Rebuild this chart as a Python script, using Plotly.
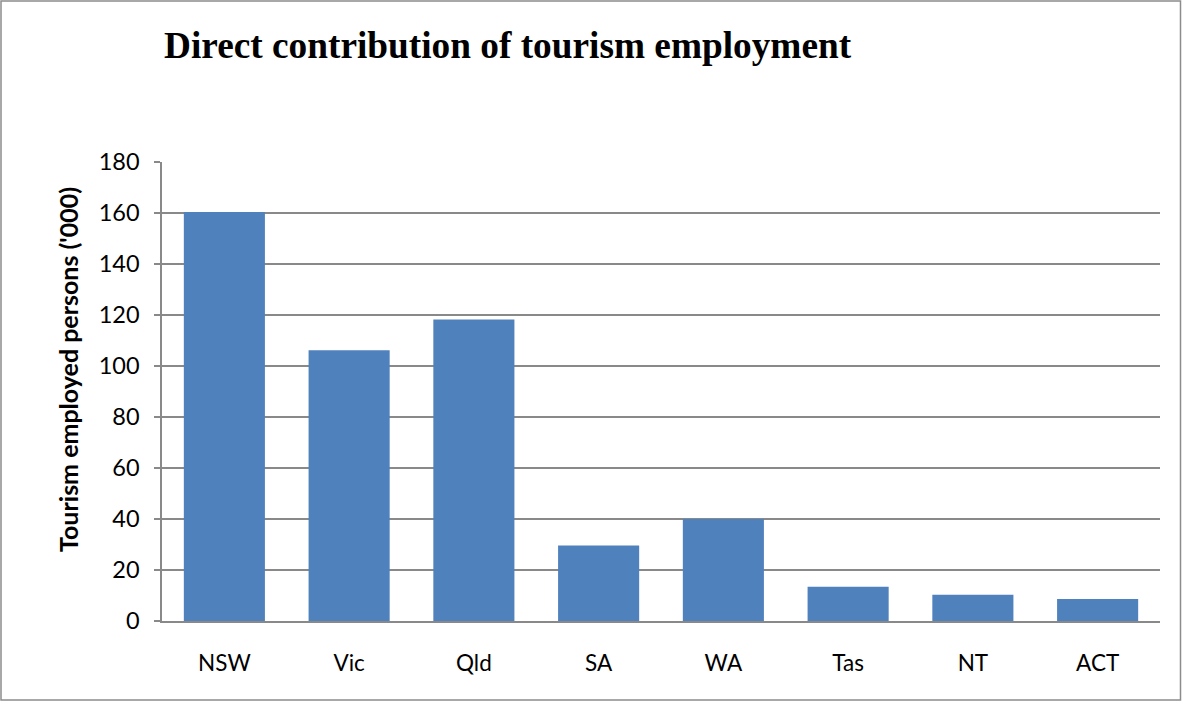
import plotly.graph_objects as go

# Tourism employment by state/territory ('000 persons)
states = ["NSW", "Vic", "Qld", "SA", "WA", "Tas", "NT", "ACT"]
employed = [160.4, 106.2, 118.2, 29.6, 40.0, 13.4, 10.3, 8.6]
y_ticks = [0, 20, 40, 60, 80, 100, 120, 140, 160, 180]

W, H = 1182, 701
ML, MR, MT, MB = 162, 22, 162, 80
PW, PH = W - ML - MR, H - MT - MB


def px_x(px):
    """Pixel column -> paper x."""
    return (px - ML) / PW


def px_y(py):
    """Pixel row -> paper y."""
    return (H - MB - py) / PH


fig = go.Figure(
    go.Bar(
        x=states,
        y=employed,
        marker=dict(color="#4F81BD", line=dict(width=0)),
        width=0.65,
    )
)

font_family = "Lato, Open Sans, sans-serif"

fig.update_layout(
    width=W,
    height=H,
    margin=dict(l=ML, r=MR, t=MT, b=MB, pad=0),
    paper_bgcolor="#ffffff",
    plot_bgcolor="#ffffff",
    showlegend=False,
    title=dict(
        text="<b>Direct contribution of tourism employment</b>",
        font=dict(family="Liberation Serif, Times New Roman, serif", size=37.3, color="#000000"),
        x=164 / W,
        xanchor="left",
        xref="container",
        y=1 - 45 / H,
        yanchor="middle",
        yref="container",
    ),
    xaxis=dict(
        showgrid=False,
        showline=True,
        linecolor="#898989",
        linewidth=1.5,
        ticks="",
        tickfont=dict(family=font_family, size=22.5, color="#000000"),
        ticklabelstandoff=21,
        range=[-0.5, 7.5],
    ),
    yaxis=dict(
        range=[0, 180],
        tickvals=y_ticks,
        showgrid=True,
        gridcolor="#898989",
        gridwidth=1.5,
        showline=True,
        linecolor="#898989",
        linewidth=1.5,
        ticks="outside",
        ticklen=6,
        tickcolor="#898989",
        tickwidth=1.5,
        tickfont=dict(family=font_family, size=23.5, color="#000000"),
        ticklabelstandoff=10,
        zeroline=False,
    ),
    annotations=[
        # vertical axis title, placed a little above the plot's centre
        dict(
            text="<b>Tourism employed persons ('000)</b>",
            font=dict(family=font_family, size=25, color="#000000"),
            textangle=-90,
            xref="paper",
            yref="paper",
            x=px_x(68),
            y=px_y(370),
            xanchor="center",
            yanchor="middle",
            showarrow=False,
        )
    ],
    shapes=[
        # outer chart border
        dict(
            type="rect",
            xref="paper",
            yref="paper",
            x0=px_x(1),
            x1=px_x(1180.5),
            y0=px_y(700),
            y1=px_y(1),
            line=dict(color="#8c8c8c", width=1.5),
            fillcolor="rgba(0,0,0,0)",
            layer="below",
        )
    ],
)

fig.write_html("out.html")
